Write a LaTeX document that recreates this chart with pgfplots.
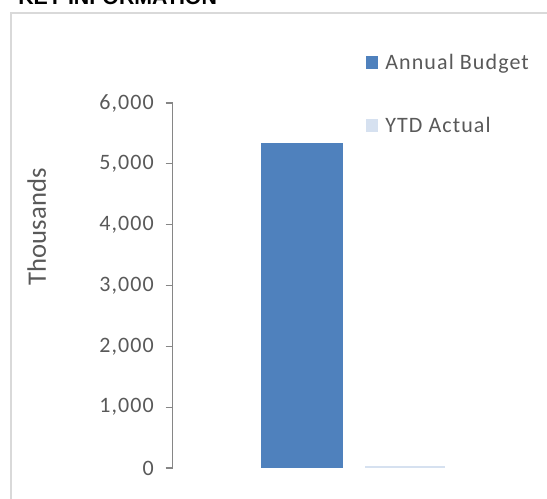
\documentclass[border=0pt]{standalone}
\usepackage{pgfplots}
\pgfplotsset{compat=1.18}
\usepackage{fontspec}
\setmainfont{Carlito}
\newfontfamily\spaced{Carlito}[LetterSpace=5]
\newfontfamily\titlefont{Liberation Sans}
\definecolor{barblue}{HTML}{4F81BD}
\definecolor{barlight}{HTML}{D6E1F0}
\definecolor{txt}{HTML}{595959}
\definecolor{axgray}{HTML}{868686}
\definecolor{framegray}{HTML}{D9D9D9}
\begin{document}
\begin{tikzpicture}
\useasboundingbox (0,0) rectangle (410.25pt,-374.25pt);
\draw[framegray, line width=1.5pt] (8.6pt,-9.6pt) rectangle (430pt,-400pt);
\node[anchor=base west, inner sep=0pt, font=\titlefont\bfseries\fontsize{16}{18}\selectfont] at (13.5pt,-3.75pt) {KEY INFORMATION};
\begin{axis}[
  at={(129.4pt,-351pt)}, anchor=south west,
  scale only axis, width=270pt, height=273.75pt,
  xmin=0, xmax=360, ymin=0, ymax=6000,
  axis x line=none, axis y line=left,
  y axis line style={-, draw=axgray, line width=0.9pt},
  ytick={0,1000,...,6000},
  tick align=outside, major tick length=5.25pt,
  y tick style={draw=axgray, line width=0.9pt},
  yticklabel style={font=\spaced\fontsize{16.5}{18}\selectfont, text=txt, xshift=-5.25pt, /pgf/number format/1000 sep={,}, /pgf/number format/assume math mode=true},
  ylabel=Thousands,
  every axis y label/.style={at={(axis description cs:-0.377,0.661)}, rotate=90, anchor=center, font=\fontsize{20}{24}\selectfont, text=txt},
  legend image code/.code={\draw[#1,draw=none] (0pt,-4.7pt) rectangle (9.5pt,4.7pt);},
  legend cell align=left,
  legend style={draw=none, fill=none, at={(axis description cs:0.536,1.143)}, anchor=north west,
    inner sep=0pt, row sep=30.3pt, font=\spaced\fontsize{16.5}{18}\selectfont, text=txt,
    /tikz/every odd column/.append style={column sep=3.2pt}},
]
\addplot[ybar, bar width=61.5pt, bar shift=0pt, fill=barblue, draw=none] coordinates {(129.5,5345)};
\addlegendentry{Annual Budget}
\addplot[ybar, bar width=60pt, bar shift=0pt, fill=barlight, draw=none] coordinates {(232.5,33)};
\addlegendentry{YTD Actual}
\end{axis}
\end{tikzpicture}
\end{document}
